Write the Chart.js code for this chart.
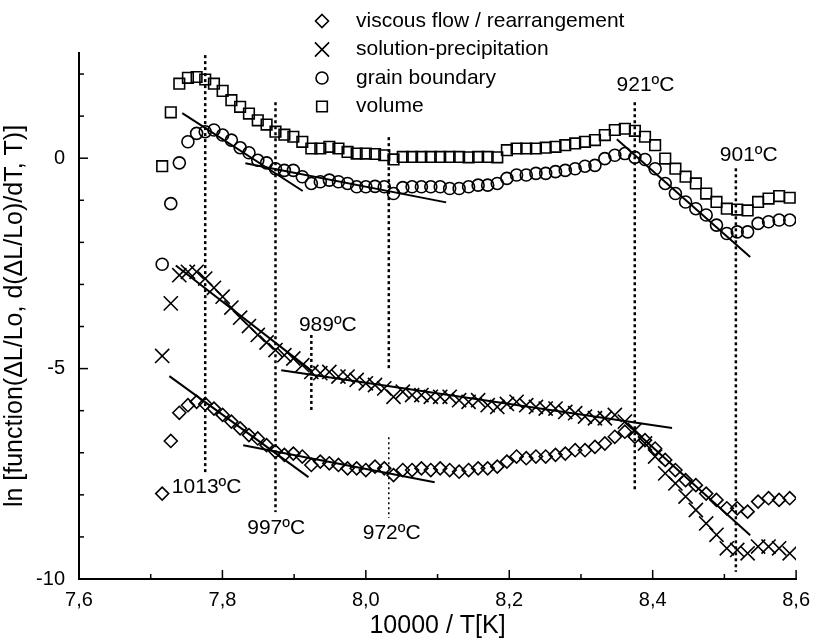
<!DOCTYPE html>
<html>
<head>
<meta charset="utf-8">
<script src="https://cdn.jsdelivr.net/npm/chart.js@4.4.0/dist/chart.umd.min.js"></script>
<style>
  body { margin: 0; background: #fff; }
</style>
</head>
<body>
<canvas id="myChart" width="819" height="641"></canvas>
<script>
// Datos: 10000/T para cada punto (cada 2 ºC de 1023 a 891 ºC)
const invT = [
  7.7160, 7.7280, 7.7399, 7.7519, 7.7640, 7.7760, 7.7882, 7.8003, 7.8125, 7.8247,
  7.8370, 7.8493, 7.8616, 7.8740, 7.8864, 7.8989, 7.9114, 7.9240, 7.9365, 7.9491,
  7.9618, 7.9745, 7.9872, 8.0000, 8.0128, 8.0257, 8.0386, 8.0515, 8.0645, 8.0775,
  8.0906, 8.1037, 8.1169, 8.1301, 8.1433, 8.1566, 8.1699, 8.1833, 8.1967, 8.2102,
  8.2237, 8.2372, 8.2508, 8.2645, 8.2781, 8.2919, 8.3056, 8.3195, 8.3333, 8.3472,
  8.3612, 8.3752, 8.3893, 8.4034, 8.4175, 8.4317, 8.4459, 8.4602, 8.4746, 8.4890,
  8.5034, 8.5179, 8.5324, 8.5470, 8.5616, 8.5763, 8.5911
];

const viscous = [
  -7.97, -6.72, -6.05, -5.87, -5.79, -5.84, -5.95, -6.10, -6.26, -6.42,
  -6.58, -6.66, -6.82, -6.97, -7.05, -7.02, -7.09, -7.29, -7.21, -7.25,
  -7.29, -7.37, -7.37, -7.41, -7.33, -7.37, -7.53, -7.41, -7.41, -7.37,
  -7.41, -7.37, -7.41, -7.45, -7.41, -7.37, -7.37, -7.33, -7.21, -7.09,
  -7.13, -7.09, -7.09, -7.05, -7.02, -6.94, -6.94, -6.86, -6.78, -6.62,
  -6.50, -6.62, -6.70, -6.90, -7.17, -7.41, -7.65, -7.77, -7.97, -8.12,
  -8.32, -8.32, -8.40, -8.16, -8.08, -8.12, -8.08
];

const solution = [
  -4.70, -3.45, -2.78, -2.70, -2.70, -2.86, -3.08, -3.29, -3.55, -3.79,
  -3.99, -4.20, -4.38, -4.56, -4.68, -4.76, -4.92, -5.08, -5.11, -5.08,
  -5.19, -5.19, -5.27, -5.35, -5.39, -5.47, -5.67, -5.55, -5.63, -5.63,
  -5.67, -5.67, -5.67, -5.75, -5.79, -5.75, -5.87, -5.91, -5.84, -5.79,
  -5.87, -5.91, -5.95, -5.95, -6.03, -6.06, -6.14, -6.18, -6.18, -6.10,
  -6.26, -6.46, -6.78, -7.09, -7.49, -7.73, -8.04, -8.36, -8.68, -8.95,
  -9.27, -9.31, -9.39, -9.23, -9.23, -9.27, -9.39
];

const grain = [
  -2.52, -1.08, -0.11, 0.39, 0.59, 0.63, 0.67, 0.55, 0.43, 0.25,
  0.13, -0.05, -0.11, -0.25, -0.29, -0.29, -0.44, -0.60, -0.56, -0.52,
  -0.56, -0.60, -0.68, -0.68, -0.67, -0.68, -0.84, -0.70, -0.68, -0.68,
  -0.68, -0.68, -0.72, -0.72, -0.68, -0.64, -0.64, -0.60, -0.48, -0.40,
  -0.40, -0.36, -0.36, -0.32, -0.29, -0.25, -0.19, -0.17, -0.01, 0.07,
  0.11, 0.02, -0.03, -0.25, -0.60, -0.84, -1.04, -1.20, -1.35, -1.59,
  -1.79, -1.75, -1.75, -1.55, -1.51, -1.47, -1.47
];

const volume = [
  -0.19, 1.09, 1.77, 1.91, 1.93, 1.87, 1.77, 1.60, 1.38, 1.22,
  1.06, 0.90, 0.80, 0.63, 0.56, 0.51, 0.39, 0.23, 0.23, 0.27,
  0.23, 0.15, 0.11, 0.11, 0.10, 0.07, -0.03, 0.03, 0.03, 0.03,
  0.03, 0.03, 0.03, 0.03, 0.02, 0.03, 0.03, 0.02, 0.19, 0.23,
  0.23, 0.23, 0.25, 0.27, 0.31, 0.35, 0.39, 0.43, 0.55, 0.67,
  0.70, 0.65, 0.51, 0.31, -0.01, -0.25, -0.44, -0.60, -0.84, -1.04,
  -1.20, -1.22, -1.24, -1.04, -0.96, -0.90, -0.94
];

// Rectas de ajuste [x1, y1, x2, y2]
const fitLines = [
  [7.744, 1.07, 7.912, -0.78],
  [7.832, -0.12, 8.112, -1.05],
  [8.350, 0.45, 8.536, -2.35],
  [7.735, -2.55, 7.925, -5.06],
  [7.882, -5.04, 8.427, -6.41],
  [7.726, -5.18, 7.920, -7.58],
  [7.829, -6.82, 8.096, -7.70],
  [8.361, -6.27, 8.536, -8.96]
];

// Líneas punteadas de temperatura [x, yTop, yBottom, grosor]
const markLines = [
  [7.776, 2.45, -7.46, 2.5],
  [7.874, 1.33, -8.41, 2.5],
  [8.032, 0.50, -5.04, 2.5],
  [8.032, -6.63, -8.55, 1.5],
  [7.924, -4.20, -6.03, 2.5],
  [8.375, 1.33, -7.89, 2.5],
  [8.516, -0.24, -9.83, 2.5]
];

const tempLabels = [
  { text: "1013ºC", x: 7.778, y: -7.81 },
  { text: "997ºC", x: 7.875, y: -8.79 },
  { text: "972ºC", x: 8.036, y: -8.91 },
  { text: "989ºC", x: 7.947, y: -3.97 },
  { text: "921ºC", x: 8.390, y: 1.73 },
  { text: "901ºC", x: 8.534, y: 0.07 }
];

const seriesNames = ["viscous flow / rearrangement", "solution-precipitation", "grain boundary", "volume"];
const seriesData = [viscous, solution, grain, volume];
const seriesStyle = [
  { pointStyle: "rectRot", radius: 6.5 },
  { pointStyle: "crossRot", radius: 10 },
  { pointStyle: "circle", radius: 6 },
  { pointStyle: "rect", radius: 7.5 }
];

const FONT = '"Liberation Sans", Arial, sans-serif';
Chart.defaults.font.family = FONT;
Chart.defaults.font.size = 20;
Chart.defaults.color = "#000";

function toPoints(ys) {
  return ys.map(function(y, i) { return { x: invT[i], y: y }; });
}

const datasets = [];

seriesData.forEach(function(ys, k) {
  datasets.push({
    label: seriesNames[k],
    data: toPoints(ys),
    pointStyle: seriesStyle[k].pointStyle,
    pointRadius: seriesStyle[k].radius,
    pointBorderWidth: 1.6,
    pointBorderColor: "#000",
    pointBackgroundColor: "rgba(0,0,0,0)",
    showLine: false
  });
});

fitLines.forEach(function(l) {
  datasets.push({
    data: [{ x: l[0], y: l[1] }, { x: l[2], y: l[3] }],
    showLine: true,
    borderColor: "#000",
    borderWidth: 2,
    pointRadius: 0
  });
});

markLines.forEach(function(m) {
  datasets.push({
    data: [{ x: m[0], y: m[1] }, { x: m[0], y: m[2] }],
    showLine: true,
    borderColor: "#000",
    borderWidth: m[3],
    borderDash: m[3] > 2 ? [3, 3] : [2, 3],
    pointRadius: 0
  });
});

// Dibuja un marcador igual que los de la serie
function drawMarker(ctx, style, x, y, r) {
  ctx.beginPath();
  if (style === "rectRot") {
    ctx.moveTo(x, y - r); ctx.lineTo(x + r, y); ctx.lineTo(x, y + r); ctx.lineTo(x - r, y); ctx.closePath();
  } else if (style === "crossRot") {
    const d = r * Math.SQRT1_2;
    ctx.moveTo(x - d, y - d); ctx.lineTo(x + d, y + d);
    ctx.moveTo(x + d, y - d); ctx.lineTo(x - d, y + d);
  } else if (style === "circle") {
    ctx.arc(x, y, r, 0, Math.PI * 2);
  } else {
    const s = r * Math.SQRT1_2;
    ctx.rect(x - s, y - s, 2 * s, 2 * s);
  }
  ctx.stroke();
}

const extras = {
  id: "extras",
  afterDraw: function(chart) {
    const ctx = chart.ctx;
    const xs = chart.scales.x;
    const ys = chart.scales.y;
    ctx.save();
    ctx.strokeStyle = "#000";
    ctx.lineWidth = 1.5;

    // marcas hacia dentro
    for (let v = -10; v <= 2; v++) {
      const py = ys.getPixelForValue(v);
      const len = v % 5 === 0 ? 9 : 5;
      ctx.beginPath();
      ctx.moveTo(xs.left, py);
      ctx.lineTo(xs.left + len, py);
      ctx.stroke();
    }
    for (let k = 0; k <= 10; k++) {
      const px = xs.getPixelForValue(7.6 + k * 0.1);
      const len = k % 2 === 0 ? 9 : 5;
      ctx.beginPath();
      ctx.moveTo(px, ys.bottom);
      ctx.lineTo(px, ys.bottom - len);
      ctx.stroke();
    }

    // etiquetas de temperatura
    ctx.fillStyle = "#000";
    ctx.font = "21px " + FONT;
    ctx.textAlign = "center";
    ctx.textBaseline = "middle";
    tempLabels.forEach(function(l) {
      ctx.fillText(l.text, xs.getPixelForValue(l.x), ys.getPixelForValue(l.y));
    });

    // leyenda
    ctx.textAlign = "left";
    ctx.lineWidth = 1.6;
    seriesNames.forEach(function(name, k) {
      const y = 21 + k * 28.5;
      drawMarker(ctx, seriesStyle[k].pointStyle, 322, y, seriesStyle[k].radius);
      ctx.fillText(name, 356, y);
    });
    ctx.restore();
  }
};

const config = {
  type: "scatter",
  data: { datasets: datasets },
  options: {
    responsive: false,
    animation: false,
    layout: { padding: { top: 53, right: 17, left: 0, bottom: 0 } },
    plugins: {
      legend: { display: false },
      tooltip: { enabled: false }
    },
    scales: {
      x: {
        type: "linear",
        min: 7.6,
        max: 8.6,
        afterFit: function(s) { s.height = 62; },
        border: { display: true, color: "#000", width: 2 },
        grid: { drawOnChartArea: false, drawTicks: false },
        ticks: {
          stepSize: 0.1,
          padding: 9,
          autoSkip: false,
          maxRotation: 0,
          callback: function(v) {
            return Math.round(v * 10) % 2 === 0 ? v.toFixed(1).replace(".", ",") : "";
          }
        },
        title: { display: true, text: "10000 / T[K]", font: { size: 25 }, padding: { top: 0, bottom: 0 } }
      },
      y: {
        type: "linear",
        min: -10,
        max: 2.5,
        afterFit: function(s) { s.width = 79; },
        border: { display: true, color: "#000", width: 2 },
        grid: { drawOnChartArea: false, drawTicks: false },
        ticks: {
          stepSize: 1,
          padding: 14,
          autoSkip: false,
          callback: function(v) {
            return v % 5 === 0 ? String(v) : "";
          }
        },
        title: { display: true, text: "ln [function(ΔL/Lo, d(ΔL/Lo)/dT, T)]", font: { size: 25 }, padding: { top: 0, bottom: 0 } }
      }
    }
  },
  plugins: [extras]
};

// Crear el gráfico
var myChart = new Chart(document.getElementById("myChart"), config);
</script>
</body>
</html>
